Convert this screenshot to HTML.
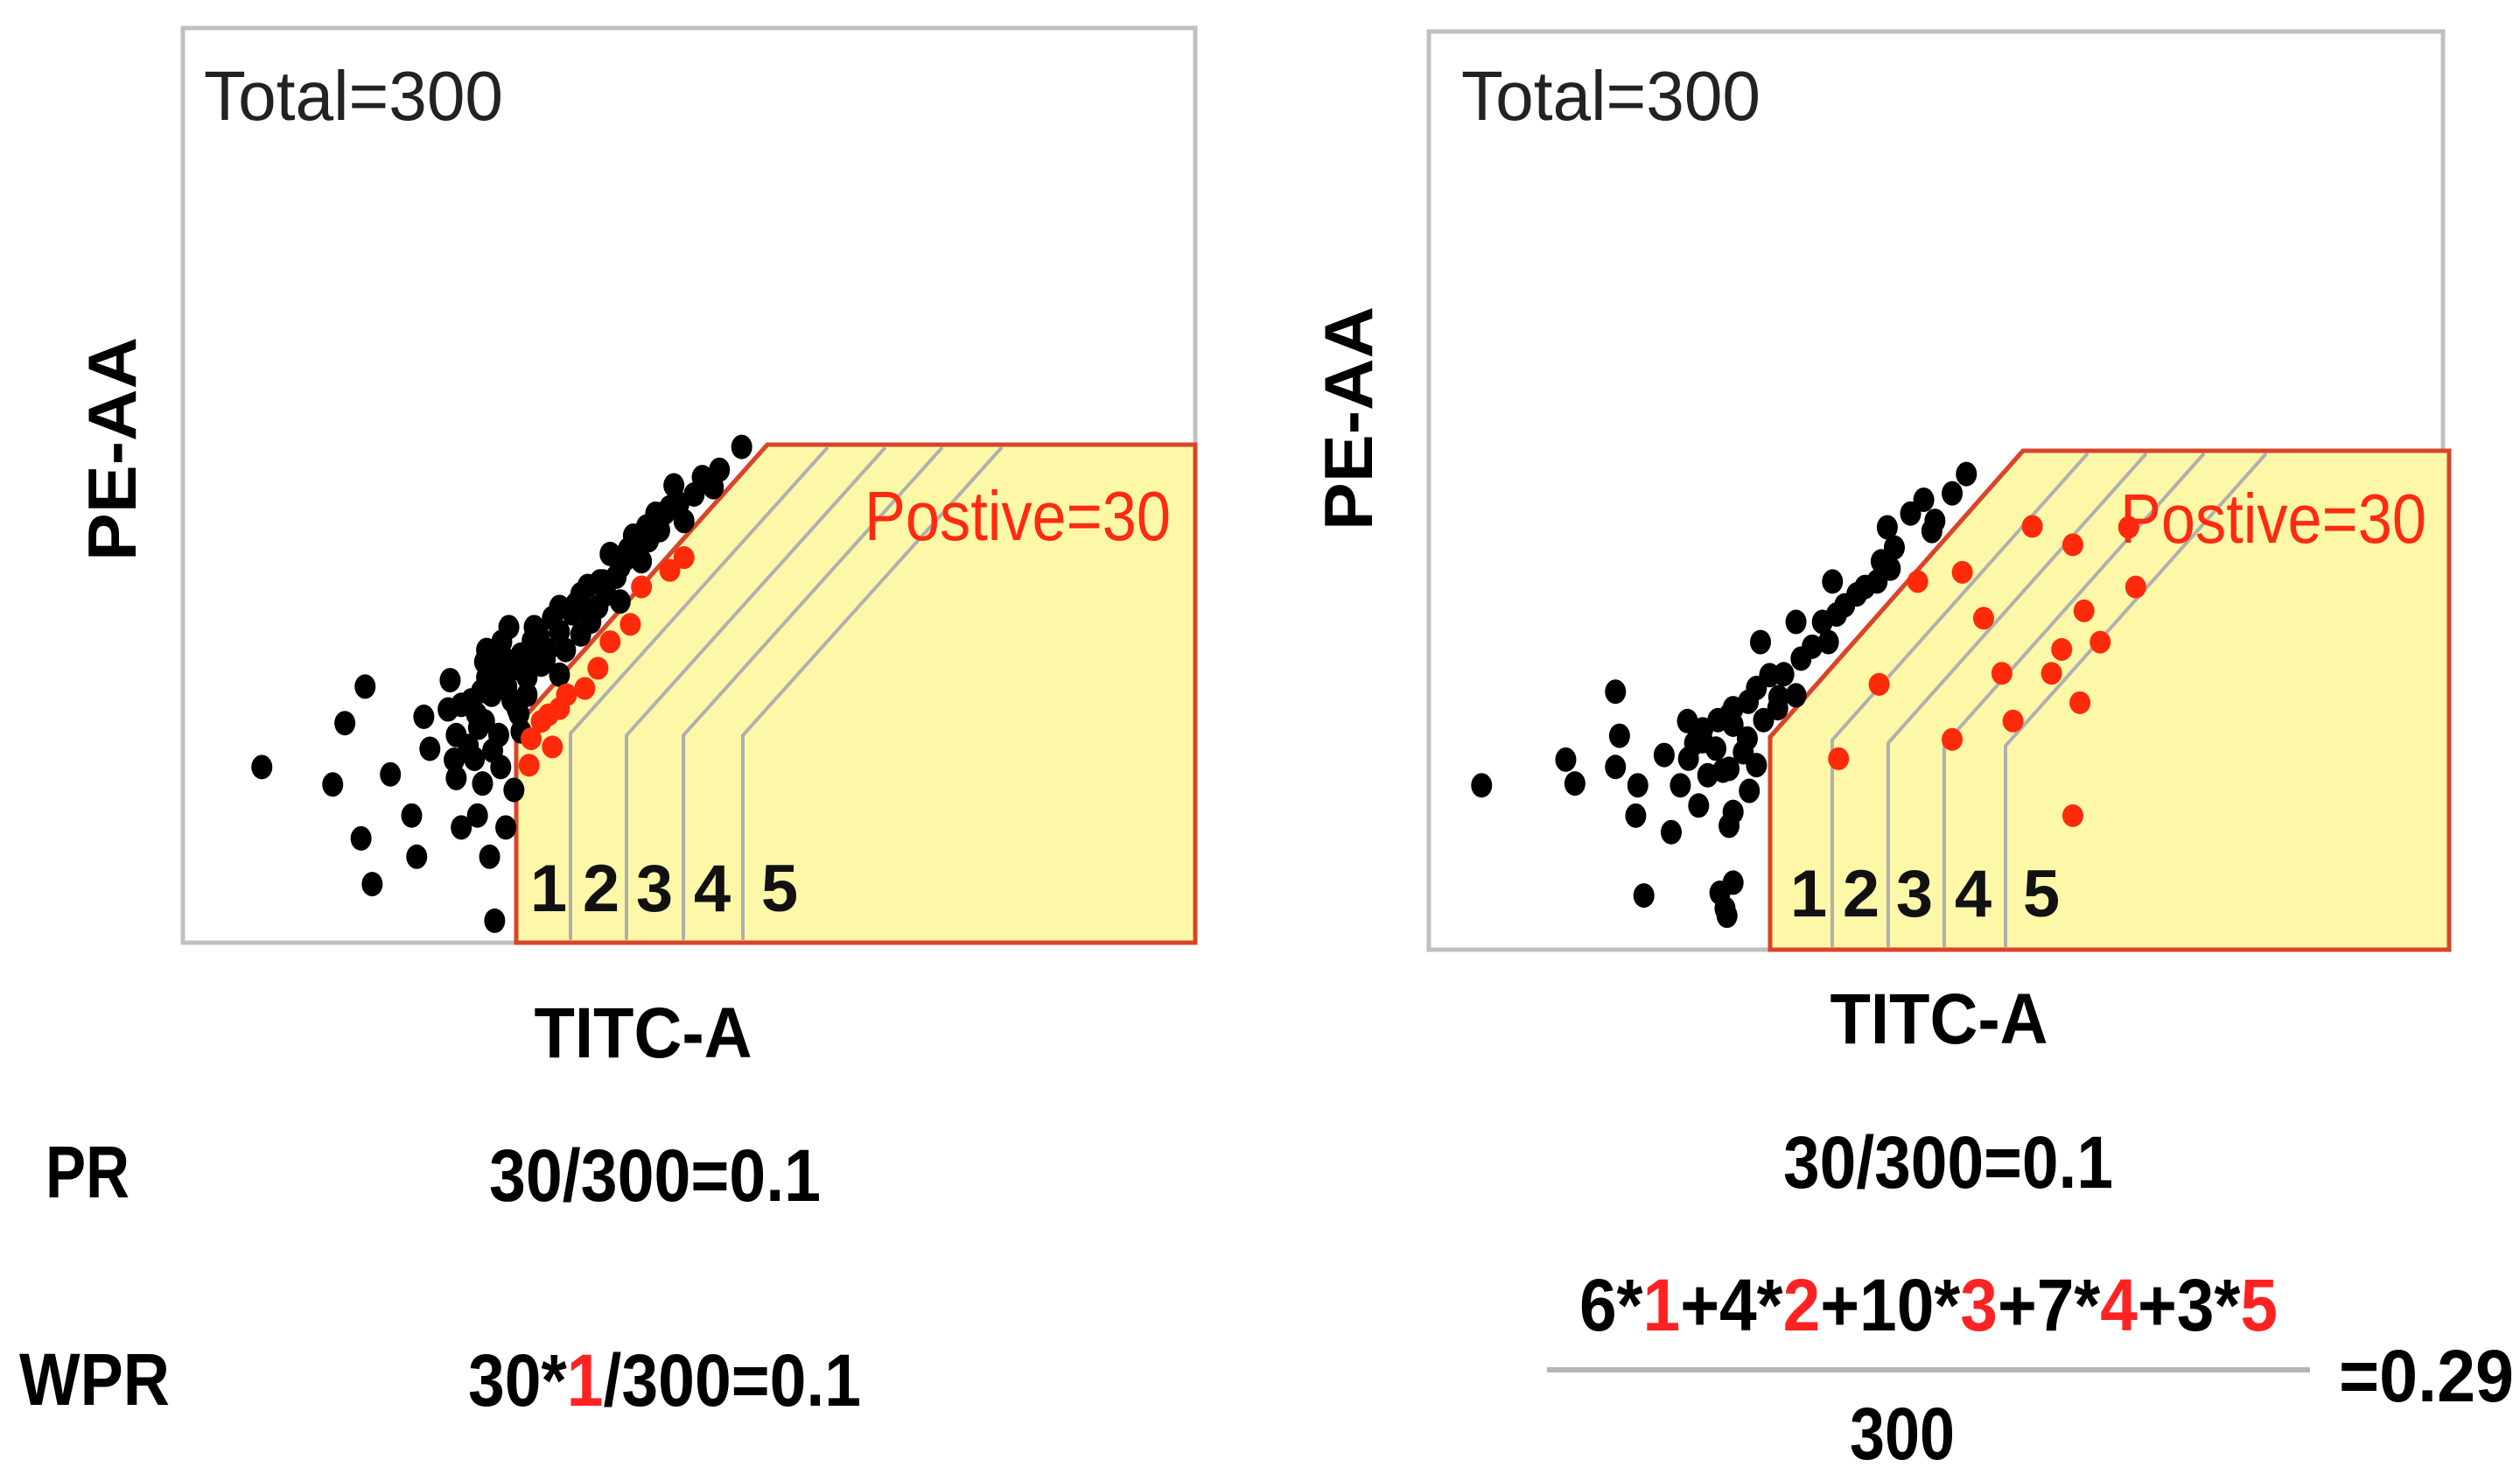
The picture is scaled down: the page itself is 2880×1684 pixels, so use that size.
<!DOCTYPE html>
<html><head><meta charset="utf-8"><style>
html,body{margin:0;padding:0;background:#fff;}
svg{display:block;}
text{font-family:"Liberation Sans",sans-serif;}
</style></head><body>
<svg id="fig" width="2880" height="1684" viewBox="0 0 2880 1684">
<g id="left"></g>
<g id="right"></g>
<g>
<text x="52" y="1368" font-size="84" font-weight="bold" textLength="96" lengthAdjust="spacingAndGlyphs">PR</text>
<text x="22" y="1605" font-size="84" font-weight="bold" textLength="172" lengthAdjust="spacingAndGlyphs">WPR</text>
<text x="559" y="1372" font-size="84" font-weight="bold" textLength="379" lengthAdjust="spacingAndGlyphs">30/300=0.1</text>
<text x="535" y="1606" font-size="84" font-weight="bold" textLength="449" lengthAdjust="spacingAndGlyphs">30*<tspan fill="#f22">1</tspan>/300=0.1</text>
<text x="2038" y="1357" font-size="84" font-weight="bold" textLength="377" lengthAdjust="spacingAndGlyphs">30/300=0.1</text>
<text x="1805" y="1520" font-size="84" font-weight="bold" textLength="798" lengthAdjust="spacingAndGlyphs">6*<tspan fill="#f22">1</tspan>+4*<tspan fill="#f22">2</tspan>+10*<tspan fill="#f22">3</tspan>+7*<tspan fill="#f22">4</tspan>+3*<tspan fill="#f22">5</tspan></text>
<line x1="1768" y1="1565" x2="2640" y2="1565" stroke="#b5b5b5" stroke-width="6"/>
<text x="2114" y="1667" font-size="84" font-weight="bold" textLength="120" lengthAdjust="spacingAndGlyphs">300</text>
<text x="2673" y="1601" font-size="84" font-weight="bold" textLength="200" lengthAdjust="spacingAndGlyphs">=0.29</text>
</g>
</svg>
<script>
// data in channel units (0..1000 across each plot box, y upward)
const leftBlackX=[78,180,160,148,205,238,244,264,275,270,226,176,231,187,308,303,275,291,319,327,296,270,288,314,298,312,334,330,312,298,315,334,347,354,372,372,393,410,393,418,422,432,446,453,471,481,495,513,530,524,552,340,351,322,305,403,432,467,330,340,320,360,385,400,440,460,505,290,300,
 285,295,305,318,325,338,345,358,365,378,388,402,412,428,438,458,476,490,300,312,322,282,292,262,268,306,332,352,372,415,445,485];
const leftBlackY=[192,280,240,173,184,247,212,287,260,227,139,114,94,64,24,94,126,139,126,167,174,180,201,192,242,227,231,256,285,307,329,315,345,304,293,367,381,367,337,381,425,373,439,417,451,476,461,509,517,498,542,271,323,297,271,351,411,469,300,290,280,320,360,390,430,440,490,250,290,
 265,275,300,310,265,305,330,310,355,320,370,360,395,400,420,455,470,480,320,300,345,215,235,255,200,210,250,335,340,395,445,500];
const leftRedX=[495,481,453,442,422,410,397,379,361,344,365,342,372,354];
const leftRedY=[421,407,389,348,329,300,278,271,249,223,214,194,256,242];
const rightBlackX=[52,135,144,184,188,184,206,204,239,232,255,256,248,266,283,296,296,314,323,316,300,323,336,344,362,327,362,367,388,394,402,398,422,442,446,459,452,475,496,499,516,530,296,270,212,300,294,287,
 270,285,300,310,290,275,262,315,330,350,345,378,410,430,455,488,300,292];
const rightBlackY=[179,207,181,281,233,199,179,146,128,212,249,208,179,157,219,197,135,230,201,173,263,285,299,263,277,335,357,317,357,335,365,401,387,401,423,438,460,475,456,467,497,518,255,227,59,73,37,62,
 240,250,245,215,195,190,225,270,250,300,275,330,375,395,415,490,150,45];
const rightRedX=[482,526,595,635,690,547,646,697,444,624,662,565,614,642,576,516,404,635];
const rightRedY=[401,411,461,441,460,361,369,395,289,327,335,301,301,269,249,229,208,146];
const laneLabels=["1","2","3","4","5"];
const totalLabel="Total=300", positiveLabel="Postive=30";

const NS="http://www.w3.org/2000/svg";
function mk(tag,attrs,parent){const e=document.createElementNS(NS,tag);for(const k in attrs)e.setAttribute(k,attrs[k]);parent.appendChild(e);return e;}

function panel(g,P,bx,by,rx,ry){
  const xs=v=>P.x0+v/1000*(P.x1-P.x0);
  const ys=v=>P.y1-v/1000*(P.y1-P.y0);
  const box=mk('rect',{x:P.x0,y:P.y0,width:P.x1-P.x0,height:P.y1-P.y0,fill:'#fff',stroke:'#c0c0c0','stroke-width':5},g);
  
  
  const G=P.gate;
  const gate=mk('polygon',{points:`${G.l},${P.y1} ${G.l},${G.ky} ${G.tx},${G.ty} ${G.r},${G.ty} ${G.r},${P.y1}`,fill:'#fdf8a8',stroke:'#d9442b','stroke-width':5},g);
  
  
  const slope=(G.ky-G.ty)/(G.tx-G.l);
  P.lanes.forEach((b,i)=>{
    const t=P.tops[i];const ky=G.ty+(t-b)*slope;
    const ln=mk('polyline',{points:`${b},${P.y1-3} ${b},${ky} ${t},${G.ty+3}`,fill:'none',stroke:'#b0b0b0','stroke-width':4},g);
    
    
  });
  const go=mk('polygon',{points:`${G.l},${P.y1} ${G.l},${G.ky} ${G.tx},${G.ty} ${G.r},${G.ty} ${G.r},${P.y1}`,fill:'none',stroke:'#d9442b','stroke-width':5},g);
  
  
  laneLabels.forEach((s,i)=>{
    const t=mk('text',{x:P.numX[i],y:P.numY,'font-size':76,'font-weight':'bold','text-anchor':'middle',fill:'#111'},g);
    t.textContent=s;
    
    
  });
  bx.forEach((v,i)=>{
    const c=mk('ellipse',{cx:xs(v),cy:ys(by[i]),rx:12,ry:14,fill:'#000'},g);
    
    
  });
  rx.forEach((v,i)=>{
    const c=mk('ellipse',{cx:xs(v),cy:ys(ry[i]),rx:12,ry:13,fill:'#ff2a0a'},g);
    
    
  });
  const tt=mk('text',{x:P.totX,y:137,'font-size':80,fill:'#222',textLength:342,lengthAdjust:'spacingAndGlyphs'},g);
  tt.textContent=totalLabel;
  
  
  const pt=mk('text',{x:P.posX,y:P.posY,'font-size':80,fill:'#ff2a10',textLength:350,lengthAdjust:'spacingAndGlyphs'},g);
  pt.textContent=positiveLabel;
  
  
  const ya=mk('text',{x:0,y:0,'font-size':78,'font-weight':'bold','text-anchor':'middle',textLength:256,lengthAdjust:'spacingAndGlyphs',transform:`translate(${P.yx},${P.yy}) rotate(-90)`},g);
  ya.textContent='PE-AA';
  
  
  const xa=mk('text',{x:P.xx,y:P.xy,'font-size':82,'font-weight':'bold','text-anchor':'middle',textLength:249,lengthAdjust:'spacingAndGlyphs'},g);
  xa.textContent='TITC-A';
  
  
}

panel(document.getElementById('left'),{x0:209,x1:1366,y0:32,y1:1077,
  gate:{l:590,ky:830,tx:877,ty:508,r:1366},
  lanes:[652,716,781,849],tops:[946,1012,1077,1145],
  numX:[627,687,748,814,891],numY:1041,totX:233,posX:988,posY:617,
  yx:155,yy:513,xx:735,xy:1208},leftBlackX,leftBlackY,leftRedX,leftRedY);
panel(document.getElementById('right'),{x0:1633,x1:2792,y0:36,y1:1085,
  gate:{l:2023,ky:842,tx:2312,ty:515,r:2799},
  lanes:[2094,2158,2222,2292],tops:[2386,2453,2519,2590],
  numX:[2067,2127,2188,2255,2333],numY:1047,totX:1670,posX:2423,posY:620,
  yx:1568,yy:478,xx:2216,xy:1192},rightBlackX,rightBlackY,rightRedX,rightRedY);
</script>
</body></html>
